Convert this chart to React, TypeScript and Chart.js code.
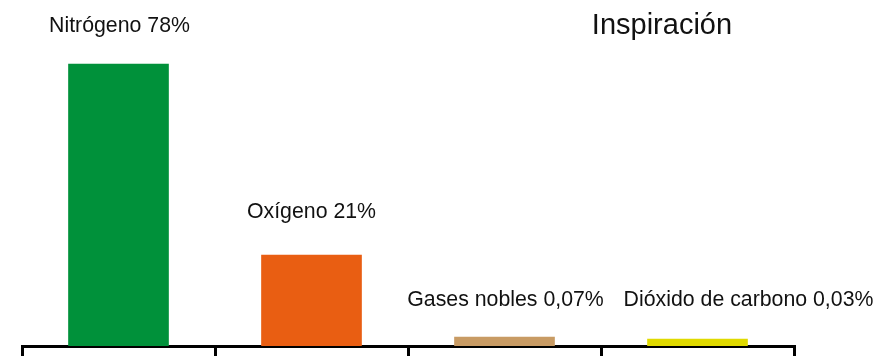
import React, { useEffect, useRef } from "react";
import { Chart, registerables } from "chart.js";

Chart.register(...registerables);

const categories = ["Nitrógeno", "Oxígeno", "Gases nobles", "Dióxido de carbono"];
const percentLabels = ["78%", "21%", "0,07%", "0,03%"];
// bar heights, on a hidden 0–100 axis
const barHeights = [81.5, 26.3, 2.6, 2.0];
const barColors = ["#00913A", "#E95E12", "#C89B64", "#E0DA00"];
const chartTitle = "Inspiración";

const FONT = '"Liberation Sans", Arial, Helvetica, sans-serif';

// label placement tweaks (pixels) relative to bar top / centre
const labelDx = [1, 0, 1, 51];
const labelDy = [32, 37, 31, 33];

const labelPlugin = {
  id: "barLabels",
  afterDatasetsDraw(chart: any) {
    const ctx = chart.ctx;
    const meta = chart.getDatasetMeta(0);
    ctx.save();
    ctx.fillStyle = "#111111";
    ctx.textAlign = "center";
    ctx.textBaseline = "alphabetic";
    ctx.font = `21.3px ${FONT}`;
    meta.data.forEach((bar: any, i: number) => {
      ctx.fillText(`${categories[i]} ${percentLabels[i]}`, bar.x + labelDx[i], bar.y - labelDy[i]);
    });
    const { left, right } = chart.chartArea;
    ctx.font = `29px ${FONT}`;
    ctx.fillText(chartTitle, left + (right - left) * 0.829, 34);
    ctx.restore();
  },
};

export default function App() {
  const canvasRef = useRef<HTMLCanvasElement | null>(null);

  useEffect(() => {
    if (!canvasRef.current) return;
    const chart = new Chart(canvasRef.current, {
      type: "bar",
      data: {
        labels: categories,
        datasets: [
          {
            data: barHeights,
            backgroundColor: barColors,
            borderWidth: 0,
            barThickness: 100,
          },
        ],
      },
      options: {
        animation: false,
        responsive: true,
        maintainAspectRatio: false,
        layout: { padding: { left: 22, right: 87, top: 0, bottom: 0 } },
        plugins: {
          legend: { display: false },
          tooltip: { enabled: false },
          title: { display: false },
        },
        scales: {
          x: {
            offset: true,
            grid: {
              display: true,
              offset: true,
              drawOnChartArea: false,
              drawTicks: true,
              tickLength: 10,
              color: "#000000",
              lineWidth: 3,
            },
            border: { display: true, color: "#000000", width: 3 },
            ticks: { display: false },
          },
          y: { display: false, min: 0, max: 100 },
        },
      },
      plugins: [labelPlugin],
    });
    return () => chart.destroy();
  }, []);

  return (
    <div style={{ position: "fixed", left: 0, top: 0, width: 881, height: 356, background: "#fff" }}>
      <canvas ref={canvasRef} />
    </div>
  );
}
